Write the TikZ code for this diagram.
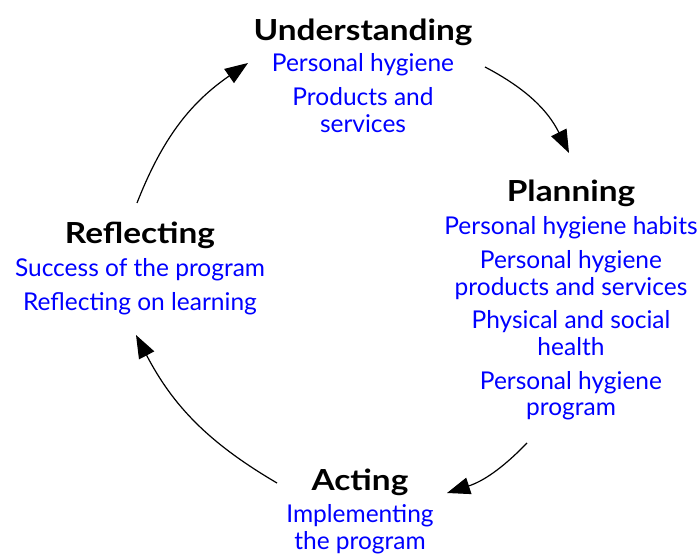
\documentclass[tikz,border=0pt]{standalone}
\usepackage{fontspec}
\setmainfont{Lato}
\newfontfamily\headfont[FakeStretch=1.15]{Lato}
\usetikzlibrary{positioning,arrows.meta}

\begin{document}
\begin{tikzpicture}[
    x=1pt, y=1pt,
    stage/.style = {anchor=base, inner sep=0pt, font=\headfont\fontsize{29}{32}\selectfont\bfseries},
    items/.style = {anchor=north, inner sep=0pt, align=center, text=blue,
                    font=\fontsize{24.5}{26.7}\selectfont},
    cycle/.style = {line width=1.2pt, -{Triangle[length=23pt,width=17pt]}},
    node distance=9pt
]
  \useasboundingbox (0,0) rectangle (698,554);

  % the four stages of the cycle
  \node (understand) [stage] at (363,513) {Understanding};
  \node (plan)       [stage] at (571,352) {Planning};
  \node (act)        [stage] at (360,64)  {Acting};
  \node (reflect)    [stage] at (140,310) {Reflecting};

  \node (understandtxt) [items, below=7pt of understand]
        {Personal hygiene\\[7pt]Products and\\services};
  \node (plantxt)       [items, below=of plan]
        {Personal hygiene habits\\[7pt]Personal hygiene\\products and services\\[7pt]
         Physical and social\\health\\[7pt]Personal hygiene\\program};
  \node (acttxt)        [items, below=of act]
        {Implementing\\the program};
  \node (reflecttxt)    [items, below=of reflect]
        {Success of the program\\[7pt]Reflecting on learning};

  % ends of the arrows round the circle
  \coordinate (u1) at (137,351);  \coordinate (u2) at (248,491);
  \coordinate (p1) at (485,487);  \coordinate (p2) at (569,401);
  \coordinate (a1) at (527,111);  \coordinate (a2) at (447,61);
  \coordinate (r1) at (277,71);   \coordinate (r2) at (136,219);

  \draw[cycle] (u1) to[bend left=17] (u2);
  \draw[cycle] (p1) to[bend left=18] (p2);
  \draw[cycle] (a1) to[bend left=14] (a2);
  \draw[cycle] (r1) to[bend left=16] (r2);

\end{tikzpicture}
\end{document}
